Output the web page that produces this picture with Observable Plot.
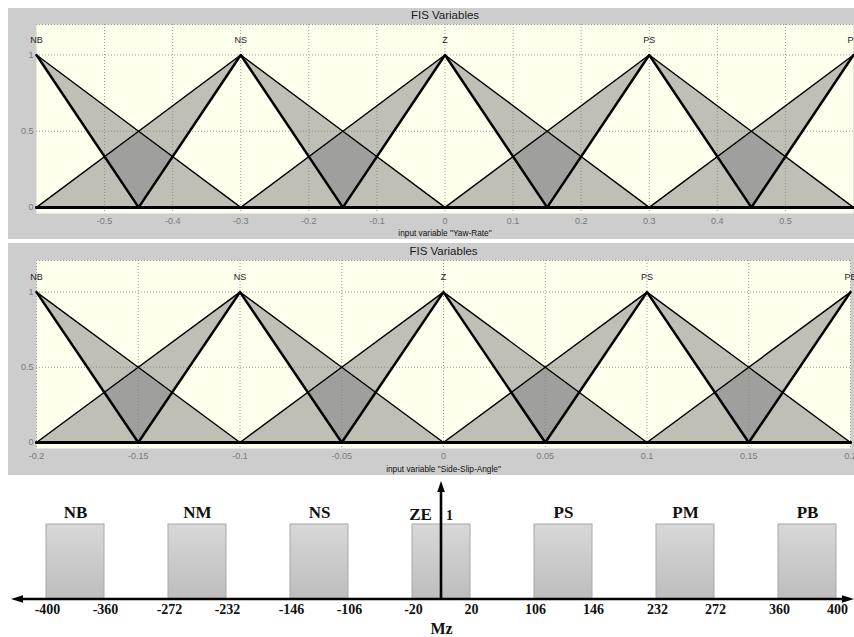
<!DOCTYPE html>
<html><head><meta charset="utf-8">
<script src="https://cdn.jsdelivr.net/npm/d3@7"></script>
<script src="https://cdn.jsdelivr.net/npm/@observablehq/plot@0.6"></script>
<style>
html,body{margin:0;padding:0;background:#fff;}
#root{position:relative;width:854px;height:637px;overflow:hidden;background:#fff;}
#root svg{position:absolute;}
</style></head>
<body><div id="root"></div>
<script>
// ---------------- data ----------------
const mfNames = ["NB", "NS", "Z", "PS", "PB"];
const membershipTicks = [0, 0.5, 1];

const yawCenters = [-0.6, -0.3, 0, 0.3, 0.6];
const yawUpperHalfWidth = 0.3;
const yawLowerHalfWidth = 0.15;
const yawDomain = [-0.6, 0.6];
const yawTicks = [-0.5, -0.4, -0.3, -0.2, -0.1, 0, 0.1, 0.2, 0.3, 0.4, 0.5];
const yawLabel = 'input variable "Yaw-Rate"';

const slipCenters = [-0.2, -0.1, 0, 0.1, 0.2];
const slipUpperHalfWidth = 0.1;
const slipLowerHalfWidth = 0.05;
const slipDomain = [-0.2, 0.2];
const slipTicks = [-0.2, -0.15, -0.1, -0.05, 0, 0.05, 0.1, 0.15, 0.2];
const slipLabel = 'input variable "Side-Slip-Angle"';

const fisTitle = "FIS Variables";

const mzNames = ["NB", "NM", "NS", "ZE", "PS", "PM", "PB"];
const mzLeft = [-400, -272, -146, -20, 106, 232, 360];
const mzRight = [-360, -232, -106, 20, 146, 272, 400];
const mzMembership = [1, 1, 1, 1, 1, 1, 1];
const mzAxisLabel = "Mz";
const mzZeroCategory = "ZE";

// ---------------- helpers ----------------
const root = document.getElementById("root");
const fmt = d => String(+(+d).toFixed(2));
function tri(x, c, w) { return Math.max(0, 1 - Math.abs(x - c) / w); }
function fisRows(centers, uw, lw, domain) {
  const r = v => Math.round(v * 1e6) / 1e6;
  const xs = new Set([r(domain[0]), r(domain[1])]);
  for (const c of centers) for (const v of [c - uw, c - lw, c, c + lw, c + uw])
    if (v >= domain[0] - 1e-9 && v <= domain[1] + 1e-9) xs.add(r(v));
  const sorted = [...xs].sort((a, b) => a - b);
  const rows = [];
  centers.forEach((c, i) => {
    for (const x of sorted) rows.push({mf: mfNames[i], x, upper: tri(x, c, uw), lower: tri(x, c, lw)});
  });
  return rows;
}

function fisChart(o) {
  const rows = fisRows(o.centers, o.uw, o.lw, o.domain);
  const svg = Plot.plot({
    width: o.width, height: o.height,
    marginTop: o.margin[0], marginRight: o.margin[1], marginBottom: o.margin[2], marginLeft: o.margin[3],
    style: {background: "#cdcdcd", left: o.left + "px", top: o.top + "px", overflow: "hidden",
            fontFamily: "'Liberation Sans', Arial, sans-serif", fontSize: "9px", color: "#7a7a7a"},
    x: {domain: o.domain, ticks: o.ticks, tickFormat: fmt, tickSize: 0, tickPadding: 4, label: null},
    y: {domain: o.yDomain, ticks: membershipTicks, tickFormat: fmt, tickSize: 0, tickPadding: 3, label: null},
    marks: [
      Plot.frame({fill: "#ffffed", stroke: "none"}),
      Plot.gridX(o.ticks, {stroke: "#999", strokeOpacity: 1, strokeDasharray: "1,2"}),
      Plot.gridY([0.5, 1], {stroke: "#999", strokeOpacity: 1, strokeDasharray: "1,2"}),
      Plot.ruleY([o.yDomain[1]], {stroke: "#999", strokeDasharray: "1,2"}),
      Plot.areaY(rows, {x: "x", y1: "lower", y2: "upper", z: "mf", fill: "#808080", fillOpacity: 0.5}),
      Plot.line(rows, {x: "x", y: "upper", z: "mf", stroke: "#000", strokeWidth: 1.4}),
      Plot.line(rows, {x: "x", y: "lower", z: "mf", stroke: "#000", strokeWidth: 2.5}),
      Plot.text(mfNames, {x: (d, i) => o.centers[i], y: 1.1, text: d => d, fill: "#222", fontSize: 9}),
      Plot.text([fisTitle], {frameAnchor: "top", lineAnchor: "middle", dy: o.titleDy, fill: "#1a1a1a", fontSize: 11.5}),
      Plot.text([o.xlabel], {frameAnchor: "bottom", lineAnchor: "middle", dy: o.xlabelDy, fill: "#111", fontSize: 8.3})
    ]
  });
  root.appendChild(svg);
}

fisChart({centers: yawCenters, uw: yawUpperHalfWidth, lw: yawLowerHalfWidth, domain: yawDomain,
  ticks: yawTicks, xlabel: yawLabel, left: 8, top: 8, width: 846, height: 231,
  margin: [16, 1, 26, 28], yDomain: [-0.04, 1.2], titleDy: -9, xlabelDy: 19.5});

fisChart({centers: slipCenters, uw: slipUpperHalfWidth, lw: slipLowerHalfWidth, domain: slipDomain,
  ticks: slipTicks, xlabel: slipLabel, left: 8, top: 243, width: 846, height: 232,
  margin: [17, 4, 27, 28], yDomain: [-0.04, 1.21], titleDy: -9, xlabelDy: 20.5});

// ---------------- bottom Mz diagram ----------------
const mzRows = mzNames.map((name, i) => ({name, left: mzLeft[i], right: mzRight[i], mu: mzMembership[i]}));
const W3 = 854, H3 = 160, ML3 = 33, MR3 = 5, MT3 = 4, MB3 = 38;
const PI3 = 0.525, PO3 = 0.1;
const yDomain3 = [0, 1.573];
const bw3 = d3.scaleBand().domain(mzNames).range([ML3, W3 - MR3]).paddingInner(PI3).paddingOuter(PO3).bandwidth();
const serif = "'Liberation Serif', 'Times New Roman', serif";

function mzAxes(index, scales, values, dims) {
  const ns = "http://www.w3.org/2000/svg";
  const g = document.createElementNS(ns, "g");
  const x = scales.x, y = scales.y;
  const bw = typeof x.bandwidth === "function" ? x.bandwidth() : (x.bandwidth || 0);
  const cx = x(mzZeroCategory) + bw / 2;
  const y0 = y(0), yTop = y(yDomain3[1]);
  const xL = dims.marginLeft - 22, xR = dims.width;
  const parts = [
    [`M${xL + 10},${y0}H${xR - 10}`, "none", 2.6],
    [`M${xL},${y0}L${xL + 12},${y0 - 3.8}L${xL + 12},${y0 + 3.8}Z`, "#000", 0],
    [`M${xR},${y0}L${xR - 12},${y0 - 3.8}L${xR - 12},${y0 + 3.8}Z`, "#000", 0],
    [`M${cx},${y0 + 1}V${yTop + 9}`, "none", 2.6],
    [`M${cx},${yTop}L${cx - 3.8},${yTop + 11}L${cx + 3.8},${yTop + 11}Z`, "#000", 0]
  ];
  for (const [d, fill, sw] of parts) {
    const p = document.createElementNS(ns, "path");
    p.setAttribute("d", d);
    p.setAttribute("fill", fill);
    if (sw) { p.setAttribute("stroke", "#000"); p.setAttribute("stroke-width", sw); }
    g.appendChild(p);
  }
  return g;
}

const bold = {fontFamily: serif, fontWeight: "bold", fill: "#111"};
const svg3 = Plot.plot({
  width: W3, height: H3, marginLeft: ML3, marginRight: MR3, marginTop: MT3, marginBottom: MB3,
  style: {background: "#fff", left: "0px", top: "477px", overflow: "hidden"},
  x: {type: "band", domain: mzNames, paddingInner: PI3, paddingOuter: PO3, axis: null},
  y: {domain: yDomain3, axis: null},
  marks: [
    Plot.barY(mzRows, {x: "name", y: "mu", fill: "url(#mzGrad)", stroke: "#a8a8a8", strokeWidth: 1}),
    Plot.text(mzRows.filter(d => d.name !== mzZeroCategory), {x: "name", y: "mu", text: "name", dy: -12, fontSize: 17, ...bold}),
    Plot.text(mzRows.filter(d => d.name === mzZeroCategory), {x: "name", y: "mu", text: "name", dx: -21, dy: -10, fontSize: 17, ...bold}),
    Plot.text([1], {x: () => mzZeroCategory, y: d => d, text: d => String(d), dx: 8, dy: -9, fontSize: 14, ...bold}),
    Plot.text(mzRows, {x: "name", y: 0, text: d => String(d.left), dx: -bw3 / 2 + 1, dy: 10, fontSize: 14, ...bold}),
    Plot.text(mzRows, {x: "name", y: 0, text: d => String(d.right), dx: bw3 / 2 + 1, dy: 10, fontSize: 14, ...bold}),
    Plot.text([mzAxisLabel], {x: () => mzZeroCategory, y: 0, dy: 29, fontSize: 16, ...bold}),
    mzAxes
  ]
});
const defs = document.createElementNS("http://www.w3.org/2000/svg", "defs");
defs.innerHTML = '<linearGradient id="mzGrad" x1="0" y1="0" x2="0" y2="1"><stop offset="0" stop-color="#d8d8d8"/><stop offset="1" stop-color="#bdbdbd"/></linearGradient>';
svg3.insertBefore(defs, svg3.firstChild);
root.appendChild(svg3);
</script>
</body></html>
